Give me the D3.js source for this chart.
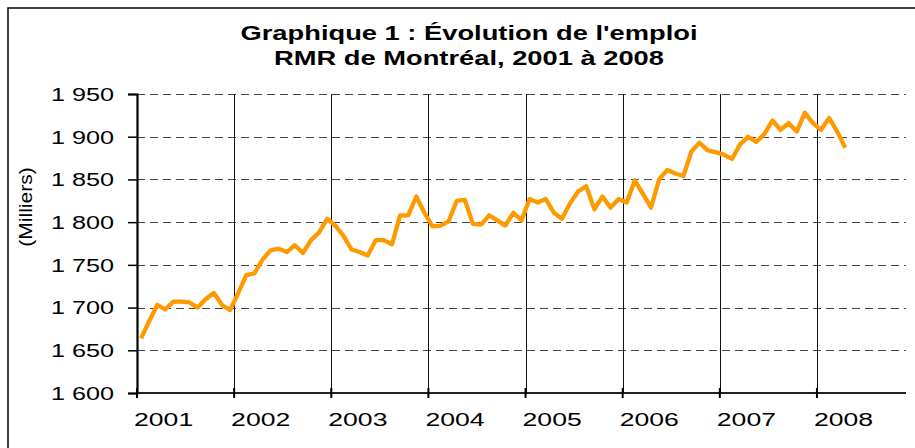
<!DOCTYPE html>
<html>
<head>
<meta charset="utf-8">
<style>
	body { margin: 0; background: white; }
	svg { display: block; }
	text { font-family: "Liberation Sans", Arial, sans-serif; fill: black; }
</style>
</head>
<body>
<svg width="915" height="448"></svg>
<script src="https://cdn.jsdelivr.net/npm/d3@7"></script>
<script>

// Emploi mensuel, RMR de Montréal (milliers), janvier 2001 à avril 2008
var years = ['2001','2002','2003','2004','2005','2006','2007','2008']
var yTicks = [1600,1650,1700,1750,1800,1850,1900,1950]
var emploi2001 = [1664,1684,1703,1698,1707,1707,1706,1700,1710,1717,1703,1697]
var emploi2002 = [1717,1738,1740,1756,1767,1769,1765,1773,1764,1779,1788,1804]
var emploi2003 = [1796,1784,1768,1765,1761,1779,1779,1774,1808,1808,1830,1811]
var emploi2004 = [1795,1796,1801,1825,1826,1798,1797,1808,1802,1796,1811,1802]
var emploi2005 = [1827,1823,1827,1811,1804,1822,1836,1842,1815,1830,1817,1827]
var emploi2006 = [1823,1849,1833,1817,1850,1861,1857,1854,1883,1893,1884,1882]
var emploi2007 = [1879,1874,1891,1900,1894,1903,1919,1908,1916,1906,1928,1916]
var emploi2008 = [1908,1922,1906,1887]

var emploi = [].concat(emploi2001,emploi2002,emploi2003,emploi2004,emploi2005,emploi2006,emploi2007,emploi2008)

var nbMonths = 95,
	plotLeft = 137,
	plotRight = 906,
	plotTop = 94,
	plotBottom = 393,
	orange = '#ff9900'

var svg = d3.select('svg')

var x = d3.scaleLinear().domain([0,nbMonths]).range([plotLeft,plotRight])
var y = d3.scaleLinear().domain([1600,1950]).range([plotBottom,plotTop])

// stretch text horizontally like the original rendering
function stretch(sel,k) {
	sel.each(function() {
		var w = this.getComputedTextLength()
		d3.select(this).attr('textLength',w*k).attr('lengthAdjust','spacingAndGlyphs')
	})
}

// outer frame
svg.append('rect')
	.attr('x',8).attr('y',8)
	.attr('width',930).attr('height',460)
	.style('fill','none')
	.style('stroke','black')
	.style('stroke-width',1.5)

// title
var title = svg.append('g')
title.append('text')
	.attr('x',469).attr('y',40)
	.attr('text-anchor','middle')
	.style('font-size','21px')
	.style('font-weight','bold')
	.text("Graphique 1 : Évolution de l'emploi")
title.append('text')
	.attr('x',469).attr('y',65)
	.attr('text-anchor','middle')
	.style('font-size','21px')
	.style('font-weight','bold')
	.text("RMR de Montréal, 2001 à 2008")
stretch(title.selectAll('text'),1.3)

// horizontal dashed grid
svg.append('g')
	.selectAll('line')
	.data(yTicks.slice(1))
	.enter().append('line')
	.attr('x1',plotLeft).attr('x2',plotRight)
	.attr('y1',d => Math.round(y(d))+0.5).attr('y2',d => Math.round(y(d))+0.5)
	.style('stroke','#444')
	.style('stroke-width',1)
	.style('stroke-dasharray','8,5')

// vertical grid at each year
svg.append('g')
	.selectAll('line')
	.data(years.slice(1))
	.enter().append('line')
	.attr('x1',(d,i) => Math.round(x((i+1)*12))+0.5).attr('x2',(d,i) => Math.round(x((i+1)*12))+0.5)
	.attr('y1',plotTop).attr('y2',plotBottom)
	.style('stroke','#111')
	.style('stroke-width',1)

// y axis
var yAxis = d3.axisLeft(y)
	.tickValues(yTicks)
	.tickSize(9)
	.tickPadding(14)
	.tickFormat(d => d3.format(',')(d).replace(',',' '))

var gy = svg.append('g')
	.attr('transform','translate('+plotLeft+',0)')
	.call(yAxis)
gy.select('.domain').style('stroke','black').style('stroke-width',2.2)
gy.selectAll('.tick line').style('stroke','black').style('stroke-width',1.5)
gy.selectAll('.tick text')
	.style('font-size','17.5px')
	.style('font-family','"Liberation Sans", Arial, sans-serif')
	.attr('dy','0.36em')
stretch(gy.selectAll('.tick text'),1.44)

// x axis
svg.append('line')
	.attr('x1',plotLeft).attr('x2',plotRight)
	.attr('y1',plotBottom).attr('y2',plotBottom)
	.style('stroke','#222')
	.style('stroke-width',2)

svg.append('g')
	.selectAll('line')
	.data(years)
	.enter().append('line')
	.attr('x1',(d,i) => x(i*12)).attr('x2',(d,i) => x(i*12))
	.attr('y1',plotBottom-5).attr('y2',plotBottom+5)
	.style('stroke','black')
	.style('stroke-width',2)

var xLabels = svg.append('g')
	.selectAll('text')
	.data(years)
	.enter().append('text')
	.attr('x',(d,i) => x(i*12)-3)
	.attr('y',426)
	.style('font-size','17.5px')
	.text(d => d)
stretch(xLabels,1.52)

// y title
var yTitle = svg.append('text')
	.attr('transform','translate(32,207) rotate(-90)')
	.attr('text-anchor','middle')
	.style('font-size','18.5px')
	.text('(Milliers)')
stretch(yTitle,1.14)

// serie
var line = d3.line()
	.x((d,i) => x(i+0.5))
	.y(d => y(d))

svg.append('path')
	.datum(emploi)
	.attr('d',line)
	.style('fill','none')
	.style('stroke',orange)
	.style('stroke-width',4.3)
	.style('stroke-linejoin','round')

</script>
</body>
</html>
